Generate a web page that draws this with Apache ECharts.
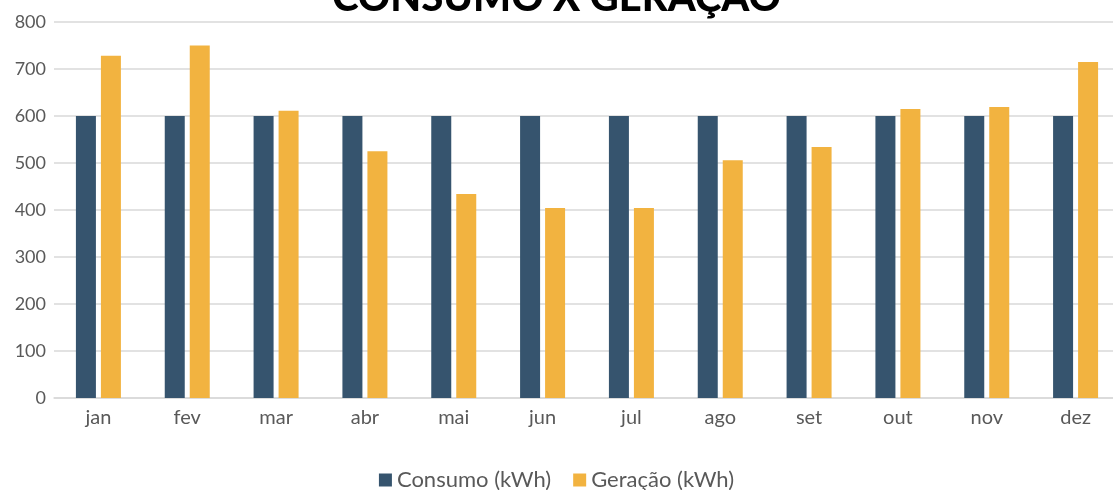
<!DOCTYPE html>
<html><head><meta charset="utf-8">
<script src="https://cdn.jsdelivr.net/npm/echarts@6/dist/echarts.min.js"></script>
<style>html,body{margin:0;padding:0;background:#fff}#c{width:1113px;height:490px}</style>
</head><body><div id="c"></div>
<script>
const categories = ['jan','fev','mar','abr','mai','jun','jul','ago','set','out','nov','dez'];
const consumo = [600,600,600,600,600,600,600,600,600,600,600,600];
const geracao = [728,750,611,525,434,404,404,506,534,615,619,715];
const yTicks = {min:0, max:800, interval:100};

const chart = echarts.init(document.getElementById('c'), null, {renderer:'canvas'});
chart.setOption({
  animation:false,
  backgroundColor:'#fff',
  title:{text:'CONSUMO X GERAÇÃO', left:'center', top:-27,
    textStyle:{fontFamily:'Lato', fontWeight:900, fontSize:40, color:'#000'}},
  legend:{top:464, left:'center', itemWidth:13, itemHeight:13, itemGap:22,
    icon:'rect', textStyle:{fontFamily:'Lato', fontSize:22, color:'#595959'},
    data:['Consumo (kWh)','Geração (kWh)']},
  grid:{left:54, width:1066, top:22, bottom:92, containLabel:false, outerBoundsMode:'none'},
  xAxis:{type:'category', data:categories,
    axisLine:{show:true, lineStyle:{color:'#d9d9d9', width:1.5}},
    axisTick:{show:false},
    axisLabel:{fontFamily:'Lato', fontSize:20, color:'#595959', margin:10}},
  yAxis:{type:'value', min:yTicks.min, max:yTicks.max, interval:yTicks.interval,
    axisLine:{show:false}, axisTick:{show:false},
    splitLine:{lineStyle:{color:'#d9d9d9', width:1.5}},
    axisLabel:{fontFamily:'Lato', fontSize:18, color:'#595959', margin:8}},
  series:[
    {name:'Consumo (kWh)', type:'bar', data:consumo, barWidth:20, barGap:'25%',
      itemStyle:{color:'#36546E'}},
    {name:'Geração (kWh)', type:'bar', data:geracao, barWidth:20,
      itemStyle:{color:'#F2B340'}}
  ]
});
</script></body></html>
